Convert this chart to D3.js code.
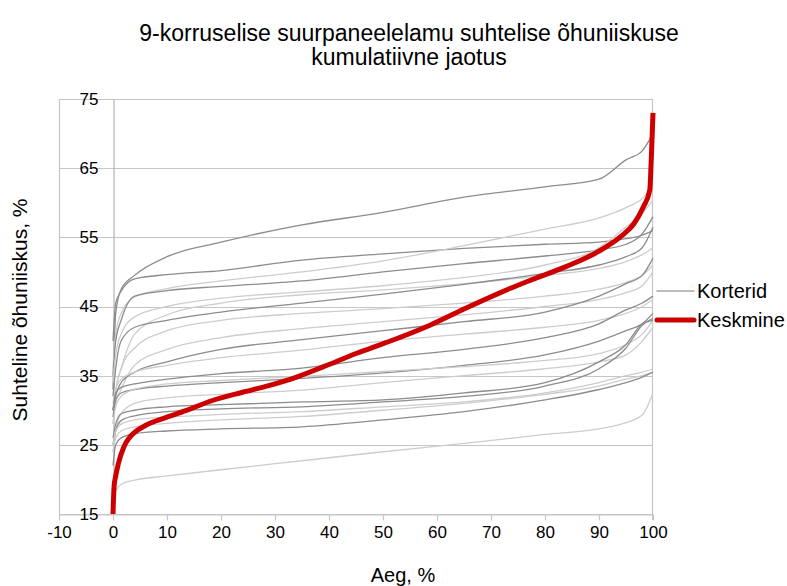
<!DOCTYPE html>
<html>
<head>
<meta charset="utf-8">
<script src="https://cdn.jsdelivr.net/npm/d3@7"></script>
<style>
  body { margin: 0; background: #fff; }
  text { font-family: "Liberation Sans", Arial, sans-serif; fill: #000; }
</style>
</head>
<body>
<div class="container"></div>
<script>
// sampling points along the time axis (%)
var aeg = [0, 0.5, 1.5, 4, 10, 20, 35, 50, 65, 80, 90, 95, 98, 100];

// apartments (Korterid), sorted RH values at the points above; tone: d = dark grey, l = light grey
var korterid = [
  {tone: "d", v: [33, 44, 47.5, 49.5, 52.2, 54.3, 56.8, 58.6, 60.8, 62.3, 63.4, 66.2, 67.5, 70.0]},
  {tone: "d", v: [40, 45.5, 47.2, 49.0, 49.6, 50.2, 51.7, 52.6, 53.4, 54.0, 54.3, 54.8, 55.3, 56.0]},
  {tone: "l", v: [36, 41, 44, 46.4, 47.6, 48.7, 50.0, 51.6, 53.8, 56.2, 57.8, 59.3, 60.6, 62.5]},
  {tone: "d", v: [35, 40, 43, 46.5, 47.3, 47.9, 48.7, 50.0, 51.2, 52.3, 53.2, 54.0, 55.5, 58.0]},
  {tone: "l", v: [34, 38, 41, 43.5, 45.0, 46.2, 47.1, 48.0, 49.2, 51.0, 53.5, 56.5, 58.5, 60.4]},
  {tone: "l", v: [30, 33, 36, 41.0, 43.8, 45.5, 46.7, 47.4, 48.3, 49.5, 50.5, 51.5, 52.5, 53.5]},
  {tone: "d", v: [32, 36, 40, 42.0, 43.0, 44.2, 45.5, 46.8, 48.2, 49.8, 51.0, 52.2, 53.5, 56.5]},
  {tone: "l", v: [30, 33, 36, 39.0, 41.5, 43.0, 44.0, 44.7, 45.5, 46.5, 47.5, 48.5, 49.5, 51.0]},
  {tone: "l", v: [28, 31, 33, 36.5, 38.8, 40.5, 41.8, 42.8, 43.8, 45.0, 46.0, 47.0, 48.0, 50.0]},
  {tone: "d", v: [30, 32, 34, 35.5, 37.0, 38.8, 40.2, 41.5, 42.8, 44.2, 46.5, 48.3, 49.5, 52.0]},
  {tone: "l", v: [31, 33, 34.5, 35.5, 36.5, 37.6, 38.7, 40.0, 41.0, 42.0, 43.0, 44.0, 45.0, 46.0]},
  {tone: "d", v: [30, 32.5, 33.3, 33.8, 34.5, 35.3, 36.1, 37.6, 38.8, 40.5, 42.5, 44.5, 45.5, 46.5]},
  {tone: "d", v: [29, 31.5, 32.5, 33.0, 33.5, 34.0, 34.6, 35.4, 36.5, 38.0, 40.0, 41.5, 42.5, 44.0]},
  {tone: "l", v: [28, 30.5, 32.0, 33.0, 33.8, 34.3, 34.9, 35.6, 36.3, 37.2, 38.2, 39.5, 41.0, 43.0]},
  {tone: "l", v: [24, 27, 29.5, 31.0, 31.8, 32.3, 32.9, 34.0, 35.0, 36.0, 37.0, 38.0, 40.0, 42.0]},
  {tone: "d", v: [26, 28, 29.5, 30.0, 30.5, 30.8, 31.2, 31.5, 32.5, 34.0, 37.0, 39.5, 42.5, 43.0]},
  {tone: "d", v: [25, 27, 28.5, 29.2, 29.8, 30.2, 30.5, 31.2, 32.0, 33.5, 36.0, 39.0, 42.3, 43.3]},
  {tone: "l", v: [25, 27, 28.0, 28.6, 29.0, 29.4, 29.8, 30.5, 31.2, 32.5, 34.0, 35.0, 35.5, 36.0]},
  {tone: "l", v: [24, 26, 27.0, 27.6, 28.1, 28.6, 29.1, 30.0, 31.0, 32.3, 33.5, 34.5, 35.0, 35.5]},
  {tone: "d", v: [22, 25, 26.0, 26.6, 27.0, 27.3, 27.6, 28.6, 29.8, 31.5, 33.0, 34.0, 34.8, 35.5]},
  {tone: "l", v: [16.5, 18.3, 19.3, 19.9, 20.5, 21.4, 22.7, 24.0, 25.2, 26.5, 27.3, 28.2, 29.3, 32.5]}
];

// average curve (Keskmine)
var keskmineX = [0, 0.2, 0.5, 1, 2, 3, 4, 6, 10, 14, 18, 24, 29, 34, 39, 45, 51, 58.7, 66, 73.5, 78, 84, 90, 94, 96.5, 98.2, 99.4, 99.7, 100];
var keskmineY = [15, 19, 20.5, 22.3, 24.7, 26.0, 26.8, 27.8, 29.0, 30.1, 31.3, 32.6, 33.6, 34.8, 36.3, 38.2, 39.9, 42.3, 45.0, 47.6, 49.0, 50.8, 53.0, 55.1, 57.0, 59.4, 61.8, 66.7, 73.0];

var xTicks = [-10, 0, 10, 20, 30, 40, 50, 60, 70, 80, 90, 100];
var yTicks = [15, 25, 35, 45, 55, 65, 75];

var title = ["9-korruselise suurpaneelelamu suhtelise õhuniiskuse", "kumulatiivne jaotus"];

var margin = {top: 99, right: 134, bottom: 72, left: 59},
    width = 787 - margin.left - margin.right,
    height = 586 - margin.top - margin.bottom;

var x_scale = d3.scaleLinear().domain([-10, 100]).range([0, width]);
var y_scale = d3.scaleLinear().domain([15, 75]).range([height, 0]);

var tone = {d: "#8c8c8c", l: "#cdcdcd"};
var grid = "#c6c6c6";

var svg = d3.select("div.container").append("svg")
    .attr("width", 787)
    .attr("height", 586);

// title
svg.append("text")
    .attr("x", 409)
    .attr("y", 41)
    .attr("text-anchor", "middle")
    .style("font-size", "23px")
    .attr("fill", "#222")
    .selectAll("tspan")
    .data(title)
    .enter().append("tspan")
    .attr("x", 409)
    .attr("dy", function(d, i) { return i ? 24 : 0; })
    .text(function(d) { return d; });

var g = svg.append("g")
    .attr("transform", "translate(" + margin.left + "," + margin.top + ")");

// horizontal gridlines
g.selectAll("line.grid")
    .data(yTicks)
    .enter().append("line")
    .attr("class", "grid")
    .attr("x1", 0)
    .attr("x2", width)
    .attr("y1", function(d) { return Math.round(y_scale(d)) + 0.5; })
    .attr("y2", function(d) { return Math.round(y_scale(d)) + 0.5; })
    .attr("stroke", grid)
    .attr("stroke-width", 1.2);

// plot border left / right
g.append("line")
    .attr("x1", 0.5).attr("x2", 0.5)
    .attr("y1", 0).attr("y2", height)
    .attr("stroke", grid).attr("stroke-width", 1.2);
g.append("line")
    .attr("x1", Math.round(width) - 0.5).attr("x2", Math.round(width) - 0.5)
    .attr("y1", 0).attr("y2", height + 6)
    .attr("stroke", grid).attr("stroke-width", 1.2);

// x axis
var xAxis = g.append("g")
    .attr("transform", "translate(0," + (Math.round(height) + 0.5) + ")")
    .call(d3.axisBottom(x_scale).tickValues(xTicks).tickSize(6).tickPadding(5).tickSizeOuter(0)
      .tickFormat(function(d) { return String(d); }));
xAxis.select(".domain").attr("stroke", grid).attr("stroke-width", 1.2);
xAxis.selectAll(".tick line").attr("stroke", grid).attr("stroke-width", 1.2);
xAxis.selectAll("text").style("font-size", "17px").attr("fill", "#000");

// y axis sits on x = 0
var yAxis = g.append("g")
    .attr("transform", "translate(" + (Math.round(x_scale(0)) + 0.5) + ",0)")
    .call(d3.axisLeft(y_scale).tickValues(yTicks).tickSize(0).tickPadding(15));
yAxis.select(".domain").attr("stroke", "#b4b4b4").attr("stroke-width", 1.2);
yAxis.selectAll("text").style("font-size", "17px").attr("fill", "#000");

// apartment lines
var line = d3.line()
    .curve(d3.curveMonotoneX)
    .x(function(d) { return x_scale(d[0]); })
    .y(function(d) { return y_scale(d[1]); });

korterid.forEach(function(k) {
  var pts = aeg.map(function(a, i) { return [a, k.v[i]]; });
  g.append("path")
      .datum(pts)
      .attr("fill", "none")
      .attr("stroke", tone[k.tone])
      .attr("stroke-width", 1.3)
      .attr("stroke-linejoin", "round")
      .attr("d", line);
});

// average line
var kesk = keskmineX.map(function(a, i) { return [a, keskmineY[i]]; });
g.append("path")
    .datum(kesk)
    .attr("fill", "none")
    .attr("stroke", "#cc0000")
    .attr("stroke-width", 5)
    .attr("stroke-linejoin", "round")
    .attr("d", line);

// legend
var legend = [
  {name: "Korterid", color: "#a6a6a6", w: 1.5, y: 291},
  {name: "Keskmine", color: "#cc0000", w: 5, y: 320}
];
legend.forEach(function(l) {
  svg.append("line")
      .attr("x1", 657).attr("x2", 694)
      .attr("y1", l.y).attr("y2", l.y)
      .attr("stroke", l.color)
      .attr("stroke-width", l.w)
      .attr("stroke-linecap", "round");
  svg.append("text")
      .attr("x", 697)
      .attr("y", l.y + 7)
      .style("font-size", "20px")
      .text(l.name);
});

// axis titles
svg.append("text")
    .attr("x", 403)
    .attr("y", 582)
    .attr("text-anchor", "middle")
    .style("font-size", "20px")
    .text("Aeg, %");

svg.append("text")
    .attr("transform", "translate(27," + 310 + ") rotate(-90)")
    .attr("text-anchor", "middle")
    .style("font-size", "21px")
    .text("Suhteline õhuniiskus, %");
</script>
</body>
</html>
